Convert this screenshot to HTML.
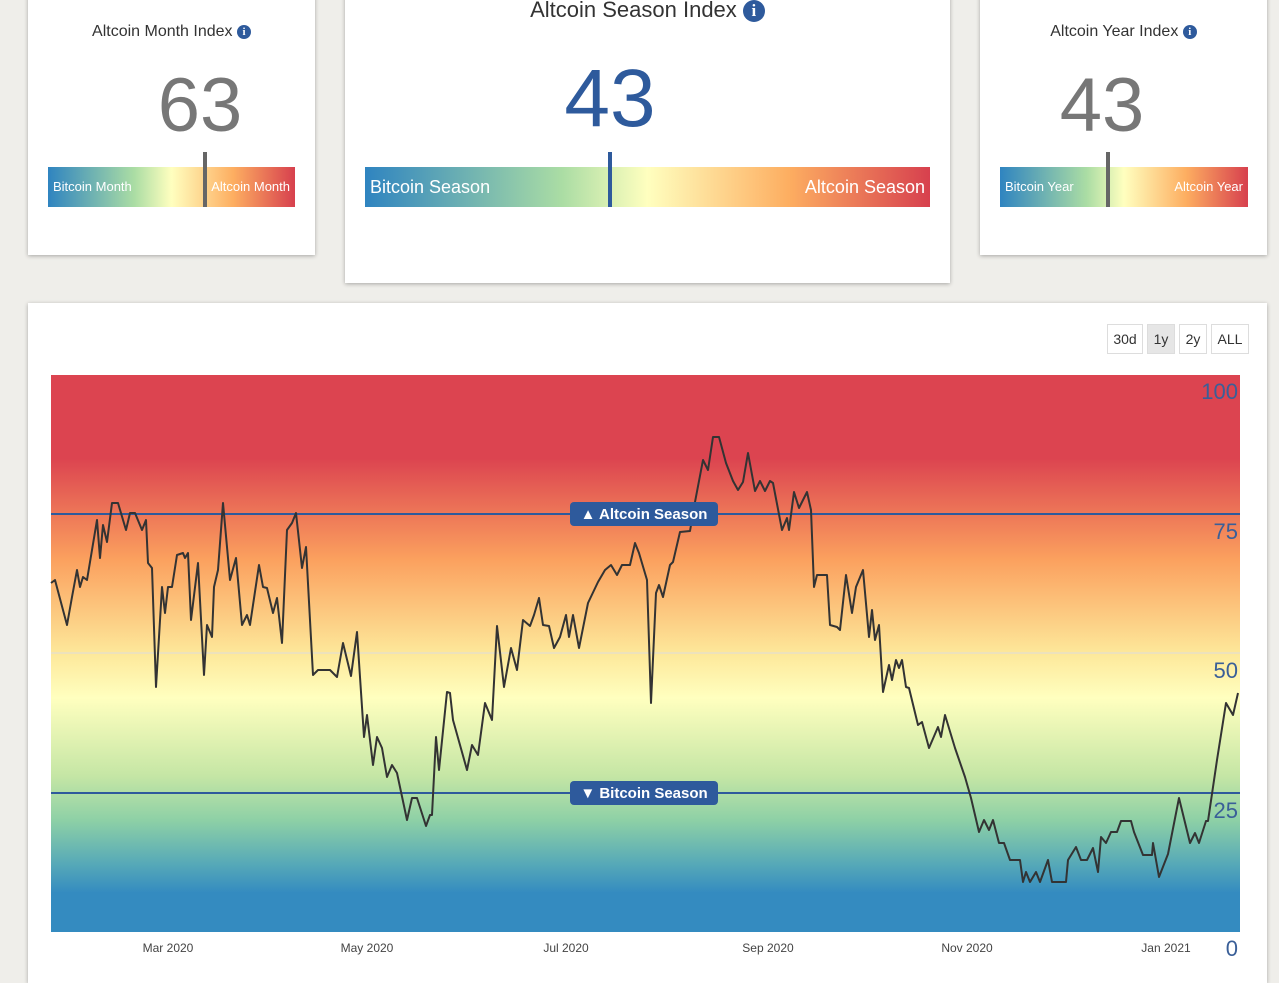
<!DOCTYPE html>
<html><head><meta charset="utf-8"><style>
body{margin:0;width:1279px;height:963px;background:#efeeea;font-family:"Liberation Sans",sans-serif;position:relative;overflow:hidden}
.card{position:absolute;background:#fff;box-shadow:0 1px 4px rgba(0,0,0,.3)}
.t{position:absolute;left:0;right:0;text-align:center;color:#333}
.n{position:absolute;width:200px;text-align:center}
.i{display:inline-block;background:#2e5a9c;color:#fff;border-radius:50%;font-weight:bold;font-family:"Liberation Serif",serif;text-align:center;vertical-align:1px}
.bar{position:absolute;height:40px;background:linear-gradient(90deg,#2f84c0 0%,#abdda4 35%,#ffffbf 50%,#fdae61 75%,#d7404e 100%);color:#fff}
.bar span{position:absolute;top:12px}
.mk{position:absolute;width:4px;background:#666}
.btn{position:absolute;top:324px;height:28px;border:1px solid #ddd;font-size:14px;line-height:28px;text-align:center;color:#333;background:#fff}
</style></head><body>
<div class="card" style="left:28px;top:-5px;width:287px;height:260px">
<div class="t" style="top:28px;font-size:16px">Altcoin Month Index <span class="i" style="width:14px;height:14px;font-size:11px;line-height:14px">i</span></div>
<div class="n" style="top:67px;font-size:76px;color:#777;left:72px">63</div>
<div class="bar" style="left:20px;top:172px;width:247px;font-size:13px"><span style="left:5px">Bitcoin Month</span><span style="right:5px">Altcoin Month</span></div>
<div class="mk" style="left:175px;top:157px;height:55px"></div>
</div>
<div class="card" style="left:345px;top:-5px;width:605px;height:288px">
<div class="t" style="top:2px;font-size:22px">Altcoin Season Index <span class="i" style="width:22px;height:22px;font-size:17px;line-height:22px">i</span></div>
<div class="n" style="top:57px;font-size:82px;color:#2e5a9c;left:165px">43</div>
<div class="bar" style="left:20px;top:172px;width:565px;font-size:18px"><span style="left:5px;top:10px">Bitcoin Season</span><span style="right:5px;top:10px">Altcoin Season</span></div>
<div class="mk" style="left:263px;top:157px;height:55px;background:#2e5a9c"></div>
</div>
<div class="card" style="left:980px;top:-5px;width:287px;height:260px">
<div class="t" style="top:28px;font-size:16px">Altcoin Year Index <span class="i" style="width:14px;height:14px;font-size:11px;line-height:14px">i</span></div>
<div class="n" style="top:67px;font-size:76px;color:#777;left:22px">43</div>
<div class="bar" style="left:20px;top:172px;width:248px;font-size:13px"><span style="left:5px">Bitcoin Year</span><span style="right:5px">Altcoin Year</span></div>
<div class="mk" style="left:126px;top:157px;height:55px"></div>
</div>
<div class="card" style="left:28px;top:303px;width:1239px;height:680px"></div>
<div class="btn" style="left:1107px;width:34px">30d</div>
<div class="btn" style="left:1147px;width:26px;background:#e6e6e6">1y</div>
<div class="btn" style="left:1179px;width:26px">2y</div>
<div class="btn" style="left:1211px;width:36px">ALL</div>
<svg style="position:absolute;left:0;top:0" width="1279" height="963">
<defs><linearGradient id="g" x1="0" y1="375" x2="0" y2="932" gradientUnits="userSpaceOnUse">
<stop offset="0" stop-color="#dc4450"/><stop offset="0.15" stop-color="#dc4450"/><stop offset="0.33" stop-color="#fba05e"/><stop offset="0.5" stop-color="#fde89a"/><stop offset="0.58" stop-color="#ffffbf"/><stop offset="0.72" stop-color="#c5e6a5"/><stop offset="0.8" stop-color="#8dd0a6"/><stop offset="0.88" stop-color="#55a8b8"/><stop offset="0.93" stop-color="#348bc0"/><stop offset="1" stop-color="#348bc0"/></linearGradient></defs>
<rect x="51" y="375" width="1189" height="557" fill="url(#g)"/>
<line x1="51" y1="653" x2="1240" y2="653" stroke="#ddd" stroke-width="1"/>
<line x1="51" y1="514" x2="1240" y2="514" stroke="#2e5a9c" stroke-width="2"/>
<line x1="51" y1="793" x2="1240" y2="793" stroke="#2e5a9c" stroke-width="2"/>
<polyline fill="none" stroke="#333" stroke-width="2" stroke-linejoin="round" points="51,583 55,580 67,625 72,597 77,570 80,587 83,577 87,580 97,520 100,558 103,525 107,542 112,503 118,503 126,530 130,513 135,513 142,530 146,520 148,563 152,568 156,687 162,587 165,613 168,587 172,587 177,555 183,553 185,558 188,553 191,620 198,563 204,675 207,625 212,637 214,587 218,570 223,503 230,580 236,558 242,625 247,615 250,625 259,565 263,587 267,588 273,613 277,598 282,643 287,530 292,523 296,513 302,568 306,547 313,675 318,670 330,670 337,677 343,643 351,676 357,632 364,737 367,715 373,765 377,737 382,748 387,777 392,765 397,773 407,820 412,798 417,798 426,826 430,815 432,815 436,737 439,770 447,692 450,693 453,720 460,745 467,770 472,745 478,755 485,703 492,720 497,626 504,687 511,648 517,670 523,620 530,626 534,615 539,598 543,625 549,626 554,648 560,637 566,615 569,637 573,615 579,648 588,603 598,582 605,570 611,565 617,575 622,565 630,565 635,543 639,553 647,580 651,703 656,593 659,585 663,597 670,565 673,562 680,532 690,531 695,502 703,460 708,470 713,437 719,437 726,463 733,481 738,490 743,482 748,453 755,491 760,481 765,491 770,481 773,483 782,530 787,518 789,530 794,492 799,508 807,492 811,510 814,587 817,575 827,575 830,625 837,627 840,630 846,575 852,613 856,587 863,570 869,637 872,610 875,640 879,625 883,692 889,665 892,680 896,660 899,668 902,660 906,687 909,688 918,725 922,722 929,748 938,727 941,737 945,715 955,748 965,777 971,798 979,832 984,820 989,830 993,820 999,843 1004,843 1010,860 1020,860 1023,882 1026,872 1030,882 1036,872 1040,882 1048,860 1052,882 1066,882 1068,860 1076,847 1081,860 1087,860 1093,848 1098,872 1101,837 1106,843 1111,832 1117,832 1121,821 1131,821 1134,832 1143,855 1152,855 1153,843 1159,877 1168,854 1179,798 1190,843 1195,833 1199,843 1206,821 1208,821 1217,760 1226,703 1233,715 1238,693"/>
<rect x="570" y="502" width="148" height="24" rx="4" fill="#2e5a9c"/>
<text x="644" y="519" font-size="15" font-weight="bold" fill="#fff" text-anchor="middle" font-family="Liberation Sans">▲ Altcoin Season</text>
<rect x="570" y="781" width="148" height="24" rx="4" fill="#2e5a9c"/>
<text x="644" y="798" font-size="15" font-weight="bold" fill="#fff" text-anchor="middle" font-family="Liberation Sans">▼ Bitcoin Season</text>
<g font-family="Liberation Sans" font-size="22" fill="#3a5f98" text-anchor="end">
<text x="1238" y="399">100</text><text x="1238" y="539">75</text><text x="1238" y="678">50</text><text x="1238" y="818">25</text><text x="1238" y="956">0</text></g>
<g font-family="Liberation Sans" font-size="12" fill="#444" text-anchor="middle">
<text x="168" y="952">Mar 2020</text><text x="367" y="952">May 2020</text><text x="566" y="952">Jul 2020</text><text x="768" y="952">Sep 2020</text><text x="967" y="952">Nov 2020</text><text x="1166" y="952">Jan 2021</text></g>
</svg>
</body></html>
